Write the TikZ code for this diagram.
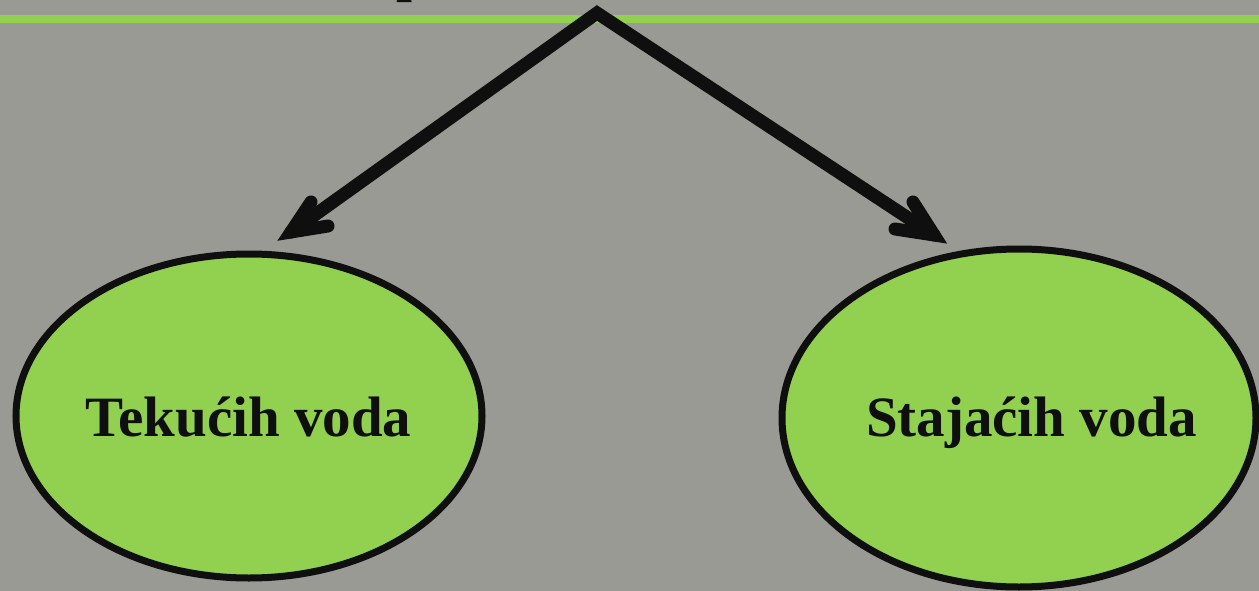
\documentclass[tikz,border=0pt]{standalone}
\usepackage{fontspec}
\setmainfont{Liberation Serif}
\usetikzlibrary{shapes.geometric,calc}
\definecolor{bg}{RGB}{153,154,147}
\definecolor{lgreen}{RGB}{146,208,80}
\definecolor{ink}{RGB}{15,15,15}
\tikzset{
  blob/.style={ellipse, draw=ink, line width=7pt, fill=lgreen, inner sep=0pt},
  lbl/.style={font=\fontsize{57}{60}\selectfont\bfseries, text=ink, inner sep=0pt, anchor=base},
  conn/.style={draw=ink, line width=13pt, line join=miter, line cap=round},
}
\begin{document}
\begin{tikzpicture}[x=1pt,y=-1pt]
\useasboundingbox (0,0) rectangle (1259,591);
\fill[bg] (0,0) rectangle (1259,591);
\begin{scope}
\clip (0,0) rectangle (1259,591);
\node[lbl] (head) at (412,-9) {p};
\end{scope}
\fill[lgreen] (0,15) rectangle (1259,23);
\coordinate (apex) at (597,13);
\node[blob, minimum width=466pt, minimum height=324pt] (left) at (249,416) {};
\node[blob, minimum width=474pt, minimum height=338pt] (right) at (1019,418) {};
\node[lbl] (lt) at (248.5,436) {Tekućih voda};
\node[lbl] (rt) at (1031.5,436) {Stajaćih voda};
\coordinate (ltip) at (291,232);
\coordinate (lb1) at (311,202);
\coordinate (lb2) at (328,226);
\coordinate (rtip) at (934,235);
\coordinate (rb1) at (913,202);
\coordinate (rb2) at (895,229);
\draw[conn] (ltip) -- (apex) -- (rtip);
\draw[conn] (lb1) -- (ltip) -- (lb2);
\draw[conn] (rb1) -- (rtip) -- (rb2);
\fill[ink] (ltip) -- ($(ltip)!0.55!(lb1)$) -- ($(ltip)!0.06!(apex)$) -- ($(ltip)!0.55!(lb2)$) -- cycle;
\fill[ink] (rtip) -- ($(rtip)!0.55!(rb1)$) -- ($(rtip)!0.06!(apex)$) -- ($(rtip)!0.55!(rb2)$) -- cycle;
\end{tikzpicture}
\end{document}
